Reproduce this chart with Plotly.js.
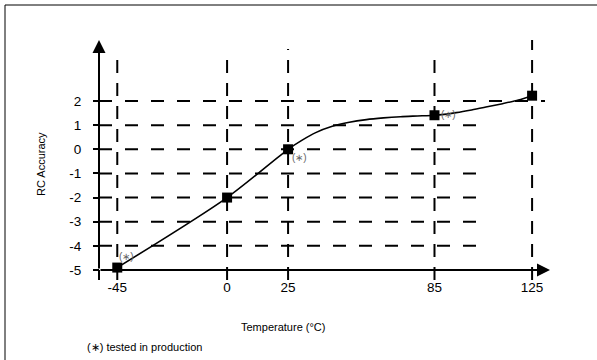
<!DOCTYPE html>
<html><head><meta charset="utf-8">
<script src="https://cdn.plot.ly/plotly-3.0.1.min.js"></script>
<style>html,body{margin:0;padding:0;background:#fff}#c{width:597px;height:360px}</style>
</head><body><div id="c"></div>
<script>
// ---- data ----
var tempTicks = [-45, 0, 25, 85, 125];
var accTicks = [2, 1, 0, -1, -2, -3, -4, -5];
var measX = [-45, 0, 25, 85, 125];
var measY = [-4.9, -2, 0, 1.41, 2.22];
var curveX = [-45, 0, 25, 30.6, 36.1, 43.1, 50.1, 57.1, 64.1, 71.1, 78, 85, 93.9, 100.2, 106.6, 112.9, 119.4, 125];
var curveY = [-4.9, -2, 0, 0.37, 0.68, 0.95, 1.12, 1.23, 1.3, 1.35, 1.38, 1.41, 1.52, 1.63, 1.76, 1.89, 2.04, 2.22];
var starX = [-45, 25, 85];
var starY = [-4.9, 0, 1.41];
var starLabel = "(\u2217)";
var xTitle = "Temperature (\u00B0C)";
var yTitle = "RC Accuracy";
var footnote = "(\u2217) tested in production";

// ---- layout helpers ----
var W = 597, H = 360;
var xr = [-93.06, 151.6], yr = [-8.729, 6.184];
function py(p){ return yr[1] - p*(yr[1]-yr[0])/H; }   // pixel row -> y value
function px(p){ return xr[0] + p*(xr[1]-xr[0])/W; }   // pixel col -> x value
var FONT = 'Liberation Sans, Arial, sans-serif';
var axX = px(99), arrowX = px(550), arrowY = py(40);
var shapes = [], ann = [];
var vdash = "13px,10px", hdash = "13px,13px";
// border
shapes.push({type:'line', xref:'paper', yref:'paper', x0:5/W, x1:1, y0:1-5/H, y1:1-5/H, line:{color:'#000', width:1}});
shapes.push({type:'line', xref:'paper', yref:'paper', x0:5/W, x1:5/W, y0:1-5/H, y1:0, line:{color:'#000', width:1}});
// vertical dashed lines
tempTicks.forEach(function(t, i){
  var top = (i === tempTicks.length-1) ? py(40) : (t === 25 ? py(49) : py(52));
  shapes.push({type:'line', xref:'x', yref:'y', x0:t, x1:t, y0:py(280), y1:top, line:{color:'#000', width:2, dash:vdash}, layer:'below'});
});
// horizontal dashed lines
accTicks.forEach(function(a){
  if (a === -5) return;
  var right = (a === 2) ? px(545) : px(484);
  shapes.push({type:'line', xref:'x', yref:'y', x0:axX, x1:right, y0:a, y1:a, line:{color:'#000', width:2, dash:hdash}, layer:'below'});
});
// y axis below x axis
shapes.push({type:'line', xref:'x', yref:'y', x0:axX, x1:axX, y0:py(280), y1:-5, line:{color:'#000', width:2}});
// axis arrows
ann.push({x:axX, y:arrowY, ax:axX, ay:-5, xref:'x', yref:'y', axref:'x', ayref:'y', text:'', showarrow:true, arrowhead:2, arrowsize:1.3, arrowwidth:2, arrowcolor:'#000'});
ann.push({x:arrowX, y:-5, ax:axX, ay:-5, xref:'x', yref:'y', axref:'x', ayref:'y', text:'', showarrow:true, arrowhead:2, arrowsize:1.3, arrowwidth:2, arrowcolor:'#000'});
// (*) labels
var shifts = [[9,11],[11,-8],[14,1]];
starX.forEach(function(x, i){
  ann.push({x:x, y:starY[i], xref:'x', yref:'y', text:starLabel, showarrow:false, xshift:shifts[i][0], yshift:shifts[i][1], font:{family:FONT, size:10, color:'#666'}});
});
// titles
ann.push({x:41/W, y:1-164/H, xref:'paper', yref:'paper', xanchor:'center', yanchor:'middle', text:yTitle, textangle:-90, showarrow:false, font:{family:FONT, size:11, color:'#000'}});
ann.push({x:283/W, y:1-327/H, xref:'paper', yref:'paper', xanchor:'center', yanchor:'middle', text:xTitle, showarrow:false, font:{family:FONT, size:11, color:'#000'}});
ann.push({x:85/W, y:1-347/H, xref:'paper', yref:'paper', xanchor:'left', yanchor:'middle', text:footnote, showarrow:false, font:{family:FONT, size:11, color:'#000'}});

var traces = [
  {x:curveX, y:curveY, mode:'lines', line:{shape:'spline', smoothing:0.8, color:'#000', width:1.6}, hoverinfo:'skip'},
  {x:measX, y:measY, mode:'markers', marker:{symbol:'square', size:10, color:'#000'}}
];
var layout = {
  width:W, height:H, margin:{l:0,r:0,t:0,b:0}, showlegend:false,
  paper_bgcolor:'#fff', plot_bgcolor:'rgba(0,0,0,0)',
  xaxis:{range:xr, anchor:'free', position:0.25, showgrid:false, zeroline:false, showline:false,
    tickmode:'array', tickvals:tempTicks, ticktext:tempTicks.map(String), ticks:'', ticklabelstandoff:7,
    tickfont:{family:FONT, size:13.5, color:'#000'}},
  yaxis:{range:yr, anchor:'free', position:99/W, showgrid:false, zeroline:false, showline:false,
    tickmode:'array', tickvals:accTicks, ticktext:accTicks.map(String), ticks:'outside', ticklen:6, tickwidth:2, tickcolor:'#000', ticklabelstandoff:9,
    tickfont:{family:FONT, size:13.5, color:'#000'}},
  shapes:shapes, annotations:ann
};
Plotly.newPlot('c', traces, layout, {staticPlot:true});
</script></body></html>
